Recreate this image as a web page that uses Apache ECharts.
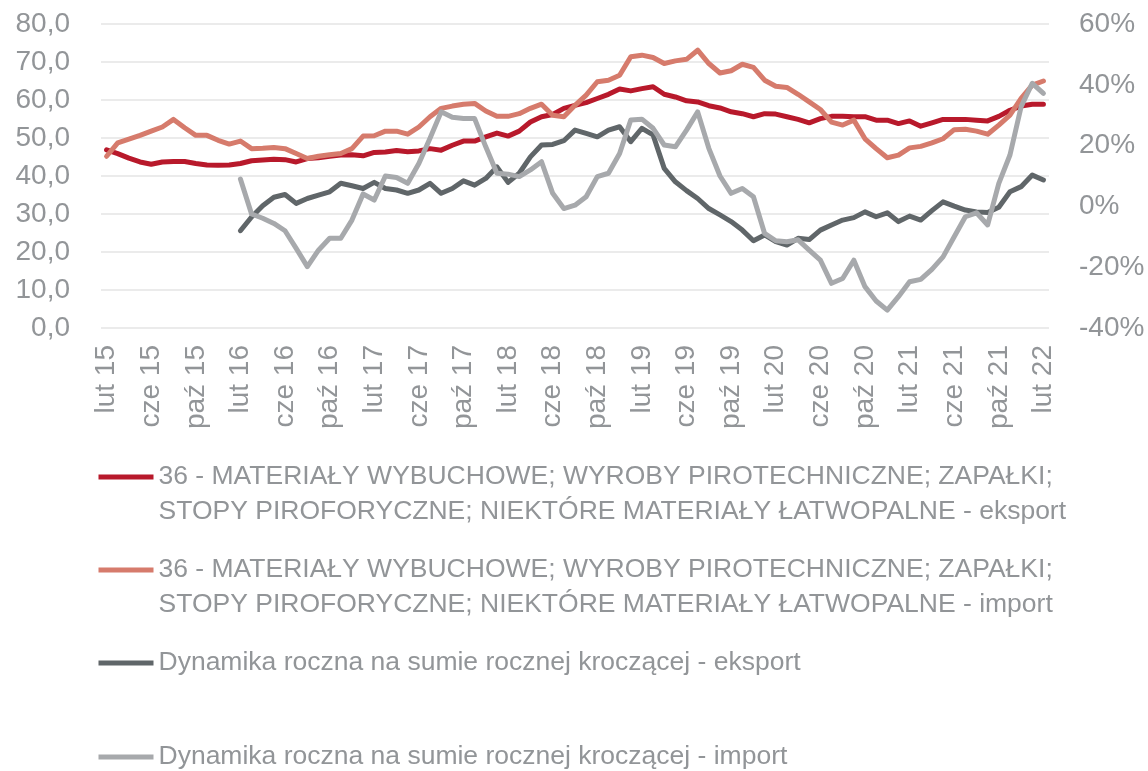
<!DOCTYPE html>
<html>
<head>
<meta charset="utf-8">
<script src="https://cdn.jsdelivr.net/npm/echarts@6/dist/echarts.min.js"></script>
<style>
  html, body { margin: 0; padding: 0; background: #ffffff; }
  #chart { width: 1148px; height: 771px; }
</style>
</head>
<body>
<div id="chart"></div>
<script>
// Monthly observations, lut 2015 – lut 2022
const monthNames = ['sty', 'lut', 'mar', 'kwi', 'maj', 'cze', 'lip', 'sie', 'wrz', 'paź', 'lis', 'gru'];
const categories = [];
for (let k = 0; k < 85; k++) {
  const m = (1 + k) % 12;
  const y = 15 + Math.floor((1 + k) / 12);
  categories.push(monthNames[m] + ' ' + y);
}

// Chapter 36 values (left axis)
const exportValues = [
  46.9, 45.9, 44.7, 43.7, 43.1, 43.7, 43.8, 43.8, 43.3, 42.9, 42.8, 42.9,
  43.3, 44.0, 44.2, 44.4, 44.3, 43.7, 44.6, 44.8, 45.2, 45.5, 45.6, 45.3,
  46.2, 46.3, 46.7, 46.4, 46.6, 47.2, 46.8, 48.1, 49.2, 49.2, 50.3, 51.3,
  50.5, 51.8, 54.2, 55.6, 56.2, 57.8, 58.6, 59.3, 60.4, 61.5, 62.9, 62.4,
  63.0, 63.5, 61.5, 60.8, 59.8, 59.5, 58.5, 57.9, 56.9, 56.4, 55.6, 56.4,
  56.3, 55.6, 54.9, 54.0, 55.1, 55.7, 55.7, 55.6, 55.6, 54.7, 54.7, 53.8,
  54.5, 53.1, 54.0, 54.9, 54.9, 54.9, 54.7, 54.5, 55.7, 57.3, 58.4, 58.9,
  58.9
];
const importValues = [
  45.2, 48.7, 49.7, 50.7, 51.8, 52.9, 54.9, 52.7, 50.7, 50.7, 49.4, 48.4,
  49.2, 47.2, 47.3, 47.5, 47.2, 45.9, 44.6, 45.2, 45.6, 45.9, 47.2, 50.5,
  50.6, 51.8, 51.8, 51.0, 52.9, 55.6, 57.8, 58.4, 58.9, 59.1, 57.1, 55.7,
  55.7, 56.4, 57.8, 58.9, 56.0, 55.6, 58.6, 61.3, 64.8, 65.2, 66.5, 71.4,
  71.8, 71.2, 69.6, 70.3, 70.7, 73.1, 69.6, 67.1, 67.7, 69.4, 68.6, 65.2,
  63.6, 63.3, 61.5, 59.5, 57.5, 54.2, 53.4, 54.7, 49.8, 47.2, 44.8, 45.5,
  47.4, 47.8, 48.7, 49.8, 52.2, 52.3, 51.8, 51.0, 53.4, 56.0, 60.4, 63.9,
  65.0
];

// Year-on-year change of the rolling annual sum, % (right axis)
const dynExportValues = [
  null, null, null, null, null, null, null, null, null, null, null, null,
  -8.0, -3.5, 0.2, 3.0, 3.9, 1.0, 2.6, 3.7, 4.8, 7.6, 6.8, 5.9,
  7.9, 5.9, 5.4, 4.3, 5.4, 7.6, 4.3, 5.9, 8.4, 7.0, 9.2, 13.0,
  7.9, 10.9, 16.3, 20.2, 20.4, 21.6, 25.1, 24.0, 22.9, 25.1, 26.2, 21.3,
  25.7, 23.5, 12.5, 8.1, 5.2, 2.6, -0.7, -2.8, -5.0, -7.8, -11.3, -9.4,
  -11.6, -12.7, -10.5, -10.9, -7.8, -6.1, -4.5, -3.7, -1.8, -3.4, -2.1, -5.0,
  -3.2, -4.5, -1.4, 1.5, 0.1, -1.2, -1.8, -2.0, -0.3, 4.8, 6.5, 10.3,
  8.7
];
const dynImportValues = [
  null, null, null, null, null, null, null, null, null, null, null, null,
  9.0, -2.5, -3.9, -5.6, -8.0, -13.8, -19.8, -14.4, -10.5, -10.5, -4.5, 4.1,
  2.1, 10.0, 9.5, 7.6, 14.1, 22.4, 31.1, 29.3, 28.9, 28.9, 19.6, 10.9,
  10.6, 9.8, 12.0, 14.7, 4.3, -0.7, 0.4, 3.2, 9.8, 10.9, 17.4, 28.4,
  28.7, 25.7, 20.2, 19.6, 25.1, 31.1, 19.1, 10.0, 4.3, 5.9, 3.2, -8.9,
  -11.3, -11.6, -11.0, -14.4, -17.7, -25.3, -23.7, -17.7, -26.4, -31.1, -34.1, -29.7,
  -24.8, -24.0, -20.7, -16.6, -10.0, -3.4, -2.1, -6.1, 7.6, 16.9, 32.8, 40.5,
  37.2
];

const seriesNames = [
  '36 - MATERIAŁY WYBUCHOWE; WYROBY PIROTECHNICZNE; ZAPAŁKI; STOPY PIROFORYCZNE; NIEKTÓRE MATERIAŁY ŁATWOPALNE - eksport',
  '36 - MATERIAŁY WYBUCHOWE; WYROBY PIROTECHNICZNE; ZAPAŁKI; STOPY PIROFORYCZNE; NIEKTÓRE MATERIAŁY ŁATWOPALNE - import',
  'Dynamika roczna na sumie rocznej kroczącej - eksport',
  'Dynamika roczna na sumie rocznej kroczącej - import'
];
const seriesColors = ['#b8192b', '#d67b6c', '#606669', '#a7a9ac'];

const FONT = '"Liberation Sans", Arial, sans-serif';
const TEXT = '#929598';
const AXIS_FONT = 28;
const LEGEND_FONT = 26.5;
const LEGEND_LINE = 35;
const LINE_WIDTH = 5;
const legendCenters = [477, 570, 663, 757];

// Long names wrap after "ZAPAŁKI;"; a leading empty line keeps the icon level with the first text line
function legendLabel(name) {
  if (name.indexOf('; STOPY') >= 0) {
    return '\n' + name.replace('; STOPY', ';\nSTOPY');
  }
  return name;
}

const legends = seriesNames.map(function (name, k) {
  const lines = legendLabel(name).split('\n').length;
  return {
    data: [name],
    orient: 'vertical',
    left: 96,
    top: legendCenters[k] - lines * LEGEND_LINE / 2,
    padding: 0,
    itemWidth: 55,
    itemHeight: 14,
    selectedMode: false,
    formatter: legendLabel,
    // plain line sample: hide the marker the line icon carries, keep the stroke at full width
    itemStyle: { opacity: 0 },
    lineStyle: { width: LINE_WIDTH, color: seriesColors[k], cap: 'butt', opacity: 1 },
    textStyle: { fontFamily: FONT, fontSize: LEGEND_FONT, color: TEXT, lineHeight: LEGEND_LINE }
  };
});

function lineSeries(k, data, axisIndex) {
  return {
    name: seriesNames[k],
    type: 'line',
    yAxisIndex: axisIndex,
    data: data,
    symbol: 'none',
    showSymbol: false,
    connectNulls: false,
    animation: false,
    lineStyle: { color: seriesColors[k], width: LINE_WIDTH, cap: 'round', join: 'round' },
    itemStyle: { color: seriesColors[k] },
    emphasis: { disabled: true }
  };
}

const chart = echarts.init(document.getElementById('chart'), null, { renderer: 'canvas' });
chart.setOption({
  animation: false,
  backgroundColor: '#ffffff',
  grid: { left: 101, right: 99, top: 24, height: 304, containLabel: false, outerBoundsMode: 'none' },
  legend: legends,
  xAxis: {
    type: 'category',
    data: categories,
    boundaryGap: true,
    axisLine: { show: false },
    axisTick: { show: false },
    splitLine: { show: false },
    axisLabel: {
      interval: 3,
      rotate: 90,
      margin: 17,
      fontFamily: FONT,
      fontSize: AXIS_FONT,
      color: TEXT
    }
  },
  yAxis: [
    {
      type: 'value',
      min: 0,
      max: 80,
      interval: 10,
      position: 'left',
      axisLine: { show: false },
      axisTick: { show: false },
      splitLine: { show: true, lineStyle: { color: '#e4e4e4', width: 1.6 } },
      axisLabel: {
        margin: 31,
        fontFamily: FONT,
        fontSize: AXIS_FONT,
        color: TEXT,
        formatter: function (v) { return v.toFixed(1).replace('.', ','); }
      }
    },
    {
      type: 'value',
      min: -40,
      max: 60,
      interval: 20,
      position: 'right',
      axisLine: { show: false },
      axisTick: { show: false },
      splitLine: { show: false },
      axisLabel: {
        margin: 30,
        fontFamily: FONT,
        fontSize: AXIS_FONT,
        color: TEXT,
        formatter: function (v) { return v + '%'; }
      }
    }
  ],
  series: [
    lineSeries(0, exportValues, 0),
    lineSeries(1, importValues, 0),
    lineSeries(2, dynExportValues, 1),
    lineSeries(3, dynImportValues, 1)
  ]
});
</script>
</body>
</html>
